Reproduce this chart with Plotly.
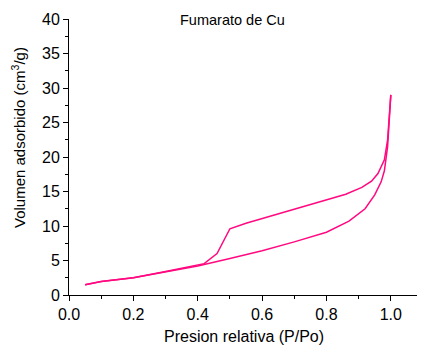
import plotly.graph_objects as go

# Adsorption branch (lower)
ads_x = [0.05, 0.1, 0.2, 0.3, 0.4, 0.5, 0.6, 0.7, 0.8, 0.87, 0.92, 0.95, 0.97, 0.98, 0.99, 1.0]
ads_y = [1.5, 1.95, 2.5, 3.35, 4.2, 5.3, 6.4, 7.7, 9.1, 10.7, 12.5, 14.5, 16.4, 18.0, 21.5, 29.0]

# Desorption branch (upper)
des_x = [1.0, 0.99, 0.98, 0.96, 0.94, 0.91, 0.86, 0.8, 0.7, 0.6, 0.55, 0.5, 0.46, 0.42, 0.35, 0.3, 0.2, 0.1, 0.05]
des_y = [29.0, 22.5, 19.6, 17.6, 16.5, 15.6, 14.6, 13.8, 12.4, 11.1, 10.4, 9.6, 6.0, 4.55, 3.85, 3.4, 2.5, 1.95, 1.5]

x_ticks = [0.0, 0.2, 0.4, 0.6, 0.8, 1.0]
y_ticks = [0, 5, 10, 15, 20, 25, 30, 35, 40]

color = "#ff0880"
fig = go.Figure()
fig.add_trace(go.Scatter(x=ads_x, y=ads_y, mode="lines", line=dict(color=color, width=1.5), showlegend=False))
fig.add_trace(go.Scatter(x=des_x, y=des_y, mode="lines", line=dict(color=color, width=1.5), showlegend=False))

font_fam = "Liberation Sans, Arial, sans-serif"
axis_common = dict(
    showline=True, linecolor="black", linewidth=1, ticks="outside", ticklen=5,
    tickcolor="black", showgrid=False, zeroline=False, mirror=False, automargin=False,
    tickfont=dict(family=font_fam, size=16, color="black"),
)
fig.update_xaxes(
    range=[0, 1.1], tickvals=x_ticks, ticktext=[f"{v:.1f}" for v in x_ticks],
    minor=dict(ticks="outside", ticklen=3, tickcolor="black", dtick=0.1, tick0=0),
    **axis_common,
)
fig.update_yaxes(
    range=[0, 40], tickvals=y_ticks,
    minor=dict(ticks="outside", ticklen=3, tickcolor="black", dtick=2.5, tick0=0),
    **axis_common,
)
fig.add_annotation(
    text="Presion relativa (P/Po)", xref="paper", yref="paper", x=0.494, y=-0.149,
    showarrow=False, xanchor="center", yanchor="middle",
    font=dict(family=font_fam, size=16, color="black"),
)
fig.add_annotation(
    text="Volumen adsorbido (cm<sup>3</sup>/g)", xref="paper", yref="paper", x=-0.141, y=0.569,
    showarrow=False, xanchor="center", yanchor="middle", textangle=-90,
    font=dict(family=font_fam, size=15, color="black"),
)
fig.add_annotation(
    text="Fumarato de Cu", xref="paper", yref="paper", x=0.462, y=0.995,
    showarrow=False, xanchor="center", yanchor="middle",
    font=dict(family=font_fam, size=14.5, color="black"),
)
# page body has an 8px margin; shrink the figure so the plot area lands where the reference has it
fig.update_layout(
    width=417, height=337, margin=dict(l=61, r=2, t=11, b=50),
    paper_bgcolor="white", plot_bgcolor="white",
)
fig.write_html("out.html")
